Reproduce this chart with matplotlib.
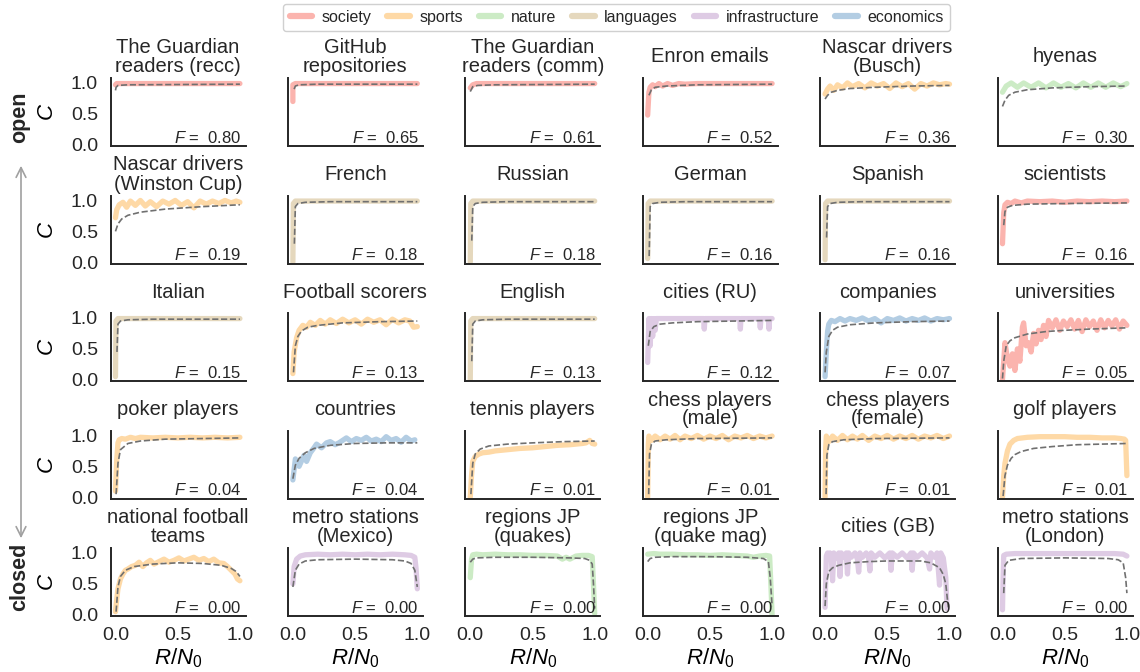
import matplotlib
matplotlib.use('Agg')
import matplotlib.pyplot as plt
from matplotlib.lines import Line2D
from matplotlib.patches import FancyArrowPatch

plt.rcParams['font.family'] = ['Liberation Sans', 'DejaVu Sans']
plt.rcParams['mathtext.fontset'] = 'custom'
plt.rcParams['mathtext.rm'] = 'Liberation Sans'
plt.rcParams['mathtext.it'] = 'Liberation Sans:italic'
plt.rcParams['text.color'] = '#262626'
plt.rcParams['xtick.color'] = '#262626'
plt.rcParams['ytick.color'] = '#262626'

# category colours (Pastel1)
group_names = ['society', 'sports', 'nature', 'languages', 'infrastructure', 'economics']
group_colors = ['#fbb4ae', '#fed9a6', '#ccebc5', '#e5d8bd', '#decbe4', '#b3cde3']

titles = [
    'The Guardian\nreaders (recc)', 'GitHub\nrepositories', 'The Guardian\nreaders (comm)',
    'Enron emails', 'Nascar drivers\n(Busch)', 'hyenas',
    'Nascar drivers\n(Winston Cup)', 'French', 'Russian', 'German', 'Spanish', 'scientists',
    'Italian', 'Football scorers', 'English', 'cities (RU)', 'companies', 'universities',
    'poker players', 'countries', 'tennis players', 'chess players\n(male)',
    'chess players\n(female)', 'golf players',
    'national football\nteams', 'metro stations\n(Mexico)', 'regions JP\n(quakes)',
    'regions JP\n(quake mag)', 'cities (GB)', 'metro stations\n(London)',
]
groups = [
    'society', 'society', 'society', 'society', 'sports', 'nature',
    'sports', 'languages', 'languages', 'languages', 'languages', 'society',
    'languages', 'sports', 'languages', 'infrastructure', 'economics', 'society',
    'sports', 'economics', 'sports', 'sports', 'sports', 'sports',
    'sports', 'infrastructure', 'nature', 'nature', 'infrastructure', 'infrastructure',
]
f_values = [0.80, 0.65, 0.61, 0.52, 0.36, 0.30,
            0.19, 0.18, 0.18, 0.16, 0.16, 0.16,
            0.15, 0.13, 0.13, 0.12, 0.07, 0.05,
            0.04, 0.04, 0.01, 0.01, 0.01, 0.01,
            0.00, 0.00, 0.00, 0.00, 0.00, 0.00]

# measured curves C(R/N0)
obs_x = [
    [0.0, 0.01, 1.0],
    [0.0, 0.0, 0.02, 1.0],
    [0.0, 0.02, 0.05, 1.0],
    [0.0, 0.01, 0.02, 0.04, 0.06, 0.09, 0.12, 0.16, 0.2, 0.25, 0.3, 0.4, 1.0],
    [0.0, 0.02, 0.04, 0.07, 0.1, 0.14, 0.18, 0.22, 0.27, 0.32, 0.37, 0.42, 0.47, 0.52,
     0.57, 0.62, 0.67, 0.72, 0.77, 0.82, 0.87, 0.92, 0.97, 1.0],
    [0.0, 0.03, 0.07, 0.12, 0.17, 0.23, 0.29, 0.35, 0.41, 0.47, 0.53, 0.59, 0.65, 0.71,
     0.77, 0.83, 0.89, 0.95, 1.0],
    [0.0, 0.01, 0.03, 0.06, 0.09, 0.12, 0.16, 0.2, 0.24, 0.28, 0.33, 0.38, 0.43, 0.48,
     0.53, 0.58, 0.63, 0.68, 0.73, 0.78, 0.83, 0.88, 0.93, 0.97, 1.0],
    [0.0, 0.004, 0.02, 1.0],
    [0.0, 0.004, 0.02, 1.0],
    [0.0, 0.004, 0.02, 1.0],
    [0.0, 0.004, 0.02, 1.0],
    [0.0, 0.01, 0.02, 0.04, 0.07, 0.1, 0.15, 0.2, 0.3, 0.4, 0.5, 0.6, 0.7, 0.8, 0.9, 1.0],
    [0.0, 0.004, 0.02, 1.0],
    [0.0, 0.01, 0.03, 0.05, 0.08, 0.11, 0.14, 0.18, 0.22, 0.26, 0.3, 0.35, 0.4, 0.45,
     0.5, 0.55, 0.6, 0.65, 0.7, 0.75, 0.8, 0.85, 0.9, 0.94, 0.97, 1.0],
    [0.0, 0.004, 0.02, 1.0],
    [0.0, 0.01, 0.02, 0.03, 0.04, 0.05, 0.06, 0.07, 0.1, 0.2, 0.3, 0.45, 0.455, 0.46,
     0.7, 0.74, 0.745, 0.75, 0.9, 0.905, 0.91, 0.97, 0.975, 0.98, 1.0],
    [0.0, 0.01, 0.02, 0.03, 0.05, 0.08, 0.12, 0.16, 0.2, 0.25, 0.3, 0.35, 0.4, 0.45,
     0.5, 0.55, 0.6, 0.65, 0.7, 0.75, 0.8, 0.85, 0.9, 0.95, 1.0],
    [0.0, 0.02, 0.04, 0.06, 0.08, 0.1, 0.12, 0.14, 0.16, 0.17, 0.19, 0.21, 0.23, 0.25,
     0.27, 0.29, 0.31, 0.33, 0.35, 0.37, 0.4, 0.43, 0.46, 0.49, 0.52, 0.55, 0.58, 0.61,
     0.64, 0.67, 0.7, 0.73, 0.76, 0.79, 0.82, 0.85, 0.88, 0.91, 0.94, 0.97, 1.0],
    [0.0, 0.01, 0.02, 0.03, 0.05, 0.08, 0.12, 0.16, 0.2, 0.3, 0.4, 0.5, 0.6, 0.7, 0.8, 0.9, 1.0],
    [0.0, 0.02, 0.05, 0.09, 0.11, 0.14, 0.17, 0.19, 0.23, 0.27, 0.3, 0.34, 0.37, 0.4,
     0.43, 0.47, 0.51, 0.55, 0.59, 0.63, 0.67, 0.71, 0.75, 0.79, 0.83, 0.87, 0.91, 0.95, 0.98],
    [0.0, 0.01, 0.02, 0.04, 0.07, 0.1, 0.15, 0.2, 0.3, 0.4, 0.5, 0.6, 0.7, 0.8, 0.85,
     0.9, 0.93, 0.96, 0.98, 1.0],
    [0.0, 0.005, 0.01, 0.03, 0.06, 0.1, 0.14, 0.18, 0.22, 0.26, 0.3, 0.35, 0.4, 0.45,
     0.5, 0.55, 0.6, 0.65, 0.7, 0.75, 0.8, 0.85, 0.9, 0.95, 1.0],
    [0.0, 0.005, 0.01, 0.03, 0.06, 0.1, 0.14, 0.18, 0.22, 0.26, 0.3, 0.35, 0.4, 0.45,
     0.5, 0.55, 0.6, 0.65, 0.7, 0.75, 0.8, 0.85, 0.9, 0.95, 1.0],
    [0.0, 0.01, 0.02, 0.04, 0.06, 0.09, 0.12, 0.16, 0.2, 0.3, 0.4, 0.5, 0.6, 0.7, 0.8,
     0.9, 0.95, 0.98, 0.99, 1.0],
    [0.0, 0.01, 0.02, 0.04, 0.06, 0.08, 0.1, 0.13, 0.16, 0.19, 0.22, 0.25, 0.28, 0.31,
     0.35, 0.39, 0.43, 0.47, 0.51, 0.55, 0.59, 0.63, 0.67, 0.71, 0.75, 0.79, 0.83, 0.87,
     0.9, 0.93, 0.96, 0.98, 1.0],
    [0.0, 0.01, 0.03, 0.06, 0.1, 0.2, 0.3, 0.4, 0.5, 0.6, 0.7, 0.8, 0.9, 0.95, 0.98, 0.99, 1.0],
    [0.0, 0.01, 0.02, 0.05, 0.1, 0.2, 0.3, 0.4, 0.5, 0.6, 0.7, 0.74, 0.77, 0.8, 0.85,
     0.9, 0.95, 0.98, 0.99, 1.0],
    [0.0, 0.05, 0.1, 0.2, 0.3, 0.4, 0.5, 0.6, 0.7, 0.8, 0.85, 0.9, 0.95, 0.98, 0.99, 1.0],
    [0.0, 0.01, 0.02, 0.03, 0.04, 0.05, 0.06, 0.07, 0.09, 0.11, 0.12, 0.13, 0.15, 0.17,
     0.18, 0.19, 0.21, 0.24, 0.26, 0.27, 0.28, 0.3, 0.33, 0.35, 0.36, 0.37, 0.4, 0.44,
     0.48, 0.52, 0.53, 0.54, 0.58, 0.62, 0.66, 0.69, 0.7, 0.71, 0.74, 0.78, 0.82, 0.84,
     0.85, 0.88, 0.9, 0.92, 0.93, 0.95, 0.97, 0.98],
    [0.0, 0.005, 0.01, 0.03, 0.1, 0.3, 0.5, 0.7, 0.9, 0.97, 1.0],
]
obs_y = [
    [0.97, 0.99, 0.99],
    [0.70, 0.97, 0.99, 0.99],
    [0.92, 0.97, 0.99, 0.99],
    [0.48, 0.85, 0.93, 0.97, 0.94, 0.99, 0.95, 0.99, 0.96, 0.99, 0.98, 0.99, 0.99],
    [0.82, 0.90, 0.95, 0.88, 0.97, 0.92, 1.0, 0.94, 0.99, 0.92, 1.0, 0.95, 0.99, 0.91,
     1.0, 0.94, 0.99, 0.90, 0.99, 0.95, 1.0, 0.97, 0.99, 0.98],
    [0.85, 0.95, 1.0, 0.93, 1.0, 0.93, 1.0, 0.92, 1.0, 0.93, 0.99, 0.92, 1.0, 0.93,
     1.0, 0.93, 1.0, 0.94, 0.99],
    [0.72, 0.85, 0.93, 0.97, 0.89, 0.99, 0.92, 1.0, 0.91, 0.98, 0.90, 0.99, 0.94, 1.0,
     0.92, 0.98, 0.88, 0.99, 0.94, 0.99, 0.95, 1.0, 0.96, 0.99, 0.97],
    [0.0, 0.95, 0.99, 0.99],
    [0.0, 0.95, 0.99, 0.99],
    [0.06, 0.95, 0.99, 0.99],
    [0.04, 0.95, 0.99, 0.99],
    [0.30, 0.80, 0.93, 0.97, 0.95, 0.99, 0.96, 0.99, 0.98, 0.99, 0.97, 0.99, 0.98, 0.99, 0.98, 0.99],
    [0.05, 0.95, 0.99, 0.99],
    [0.10, 0.45, 0.68, 0.80, 0.88, 0.85, 0.93, 0.88, 0.96, 0.90, 0.97, 0.91, 0.98, 0.92,
     0.97, 0.90, 0.98, 0.93, 0.97, 0.89, 0.98, 0.92, 0.97, 0.95, 0.85, 0.86],
    [0.0, 0.95, 0.99, 0.99],
    [0.28, 0.99, 0.55, 0.99, 0.70, 0.99, 0.80, 0.99, 0.99, 0.99, 0.99, 0.99, 0.82, 0.99,
     0.99, 0.99, 0.82, 0.99, 0.99, 0.84, 0.99, 0.99, 0.82, 0.99, 0.99],
    [0.05, 0.45, 0.78, 0.90, 0.96, 0.94, 0.99, 0.95, 0.99, 0.96, 1.0, 0.95, 0.99, 0.92,
     0.99, 0.96, 1.0, 0.95, 0.99, 0.96, 1.0, 0.95, 0.99, 0.97, 0.99],
    [0.0, 0.60, 0.35, 0.22, 0.42, 0.15, 0.50, 0.30, 0.85, 0.92, 0.55, 0.60, 0.45, 0.75,
     0.58, 0.80, 0.65, 0.88, 0.70, 0.96, 0.84, 0.97, 0.80, 0.95, 0.86, 0.97, 0.82, 0.96,
     0.78, 0.97, 0.86, 0.95, 0.80, 0.97, 0.84, 0.96, 0.87, 0.97, 0.82, 0.95, 0.88],
    [0.10, 0.60, 0.88, 0.93, 0.95, 0.94, 0.97, 0.95, 0.97, 0.96, 0.97, 0.96, 0.97, 0.96, 0.97, 0.96, 0.97],
    [0.28, 0.62, 0.50, 0.68, 0.58, 0.72, 0.80, 0.86, 0.80, 0.88, 0.90, 0.85, 0.88, 0.92,
     0.96, 0.90, 0.95, 0.92, 0.97, 0.91, 0.94, 0.90, 0.98, 0.92, 0.95, 0.89, 0.97, 0.91, 0.93],
    [0.0, 0.35, 0.58, 0.66, 0.70, 0.72, 0.73, 0.75, 0.77, 0.79, 0.80, 0.82, 0.84, 0.85,
     0.86, 0.87, 0.88, 0.92, 0.87, 0.86],
    [0.0, 0.85, 0.99, 0.92, 0.99, 0.93, 0.99, 0.94, 1.0, 0.93, 0.99, 0.95, 1.0, 0.94,
     0.99, 0.95, 1.0, 0.93, 0.99, 0.96, 1.0, 0.95, 0.99, 0.96, 0.99],
    [0.0, 0.80, 0.99, 0.90, 0.99, 0.92, 1.0, 0.93, 0.99, 0.94, 1.0, 0.92, 0.99, 0.95,
     1.0, 0.94, 0.99, 0.95, 1.0, 0.94, 0.99, 0.96, 1.0, 0.95, 0.99],
    [0.0, 0.35, 0.55, 0.75, 0.86, 0.92, 0.95, 0.96, 0.97, 0.98, 0.98, 0.98, 0.97, 0.97,
     0.96, 0.96, 0.95, 0.94, 0.92, 0.35],
    [0.05, 0.25, 0.42, 0.58, 0.66, 0.72, 0.74, 0.78, 0.80, 0.85, 0.78, 0.84, 0.88, 0.82,
     0.86, 0.90, 0.85, 0.88, 0.92, 0.87, 0.90, 0.93, 0.88, 0.91, 0.86, 0.90, 0.84, 0.83,
     0.78, 0.72, 0.66, 0.58, 0.55],
    [0.50, 0.78, 0.90, 0.95, 0.97, 0.98, 0.97, 0.98, 0.97, 0.98, 0.97, 0.98, 0.97, 0.96,
     0.93, 0.75, 0.42],
    [0.60, 0.90, 0.97, 0.98, 0.97, 0.98, 0.97, 0.97, 0.96, 0.96, 0.95, 0.90, 0.93, 0.90,
     0.95, 0.96, 0.96, 0.94, 0.50, 0.02],
    [0.98, 0.99, 0.98, 0.98, 0.97, 0.97, 0.96, 0.97, 0.96, 0.95, 0.93, 0.95, 0.96, 0.95, 0.50, 0.0],
    [0.12, 0.95, 1.0, 0.90, 1.0, 0.92, 0.55, 1.0, 0.92, 1.0, 0.62, 1.0, 0.93, 1.0,
     0.66, 1.0, 0.93, 1.0, 0.90, 0.69, 1.0, 0.93, 1.0, 0.92, 0.71, 1.0, 0.93, 1.0,
     0.92, 1.0, 0.72, 1.0, 0.93, 1.0, 0.92, 1.0, 0.72, 1.0, 0.93, 1.0, 0.92, 0.74,
     1.0, 0.93, 1.0, 0.48, 1.0, 0.92, 0.60, 0.10],
    [0.08, 0.60, 0.96, 0.98, 0.99, 0.99, 0.99, 0.99, 0.99, 0.98, 0.95],
]

# fitted curves (dashed)
fit_x = [
    [0.0, 0.005, 0.02, 0.1, 1.0],
    [0.01, 0.02, 0.05, 0.2, 1.0],
    [0.0, 0.02, 0.06, 0.2, 1.0],
    [0.01, 0.03, 0.06, 0.15, 0.4, 1.0],
    [0.0, 0.02, 0.05, 0.1, 0.2, 0.4, 0.7, 1.0],
    [0.0, 0.02, 0.05, 0.1, 0.2, 0.4, 0.7, 1.0],
    [0.0, 0.02, 0.05, 0.1, 0.2, 0.4, 0.7, 1.0],
    [0.012, 0.02, 0.04, 0.1, 0.3, 1.0],
    [0.012, 0.02, 0.04, 0.1, 0.3, 1.0],
    [0.012, 0.02, 0.04, 0.1, 0.3, 1.0],
    [0.012, 0.02, 0.04, 0.1, 0.3, 1.0],
    [0.01, 0.02, 0.04, 0.08, 0.2, 0.5, 1.0],
    [0.012, 0.02, 0.04, 0.1, 0.3, 1.0],
    [0.005, 0.02, 0.04, 0.07, 0.12, 0.2, 0.4, 0.7, 1.0],
    [0.012, 0.02, 0.04, 0.1, 0.3, 1.0],
    [0.005, 0.02, 0.05, 0.1, 0.2, 0.4, 0.7, 1.0],
    [0.0, 0.01, 0.03, 0.06, 0.1, 0.2, 0.4, 0.7, 1.0],
    [0.0, 0.01, 0.03, 0.06, 0.1, 0.2, 0.35, 0.5, 0.7, 1.0],
    [0.005, 0.02, 0.04, 0.1, 0.2, 0.4, 0.7, 1.0],
    [0.0, 0.02, 0.05, 0.1, 0.17, 0.3, 0.5, 0.75, 1.0],
    [0.005, 0.02, 0.04, 0.08, 0.15, 0.3, 0.5, 0.75, 1.0],
    [0.008, 0.015, 0.03, 0.06, 0.15, 0.4, 1.0],
    [0.008, 0.015, 0.03, 0.06, 0.15, 0.4, 1.0],
    [0.005, 0.02, 0.04, 0.07, 0.1, 0.15, 0.25, 0.4, 0.6, 0.8, 1.0],
    [0.005, 0.02, 0.04, 0.08, 0.15, 0.3, 0.5, 0.7, 0.85, 0.93, 0.97, 1.0],
    [0.0, 0.02, 0.05, 0.1, 0.2, 0.5, 0.8, 0.9, 0.95, 0.98, 1.0],
    [0.0, 0.02, 0.05, 0.2, 0.5, 0.8, 0.92, 0.96, 0.98, 0.99, 1.0],
    [0.0, 0.02, 0.06, 0.2, 0.5, 0.8, 0.93, 0.97, 0.985, 1.0],
    [0.0, 0.01, 0.03, 0.06, 0.11, 0.2, 0.35, 0.5, 0.77, 0.85, 0.92, 0.95, 0.97, 0.99],
    [0.01, 0.02, 0.05, 0.15, 0.5, 0.85, 0.93, 0.97, 0.99, 1.0],
]
fit_y = [
    [0.88, 0.93, 0.96, 0.97, 0.98],
    [0.90, 0.95, 0.97, 0.98, 0.98],
    [0.86, 0.94, 0.96, 0.97, 0.98],
    [0.80, 0.89, 0.93, 0.95, 0.97, 0.98],
    [0.74, 0.80, 0.85, 0.88, 0.91, 0.93, 0.95, 0.96],
    [0.62, 0.72, 0.80, 0.85, 0.89, 0.92, 0.94, 0.95],
    [0.50, 0.62, 0.70, 0.76, 0.81, 0.86, 0.90, 0.93],
    [0.30, 0.90, 0.95, 0.97, 0.98, 0.98],
    [0.35, 0.90, 0.95, 0.97, 0.98, 0.98],
    [0.10, 0.90, 0.95, 0.97, 0.98, 0.98],
    [0.40, 0.90, 0.95, 0.97, 0.98, 0.98],
    [0.60, 0.82, 0.89, 0.92, 0.94, 0.95, 0.96],
    [0.45, 0.90, 0.95, 0.97, 0.98, 0.98],
    [0.12, 0.55, 0.70, 0.79, 0.85, 0.88, 0.92, 0.94, 0.95],
    [0.30, 0.90, 0.95, 0.97, 0.98, 0.98],
    [0.55, 0.78, 0.86, 0.90, 0.92, 0.94, 0.95, 0.96],
    [0.12, 0.45, 0.70, 0.80, 0.85, 0.89, 0.92, 0.94, 0.95],
    [0.02, 0.30, 0.55, 0.63, 0.68, 0.74, 0.78, 0.80, 0.82, 0.84],
    [0.05, 0.55, 0.77, 0.87, 0.91, 0.94, 0.95, 0.96],
    [0.30, 0.52, 0.63, 0.72, 0.79, 0.84, 0.87, 0.88, 0.88],
    [0.05, 0.55, 0.70, 0.78, 0.83, 0.86, 0.88, 0.90, 0.91],
    [0.05, 0.70, 0.86, 0.91, 0.93, 0.95, 0.96],
    [0.05, 0.68, 0.85, 0.90, 0.93, 0.95, 0.96],
    [0.02, 0.35, 0.52, 0.63, 0.69, 0.74, 0.79, 0.82, 0.85, 0.86, 0.87],
    [0.05, 0.45, 0.62, 0.72, 0.78, 0.82, 0.84, 0.83, 0.80, 0.75, 0.70, 0.62],
    [0.45, 0.72, 0.82, 0.87, 0.89, 0.90, 0.89, 0.87, 0.83, 0.72, 0.45],
    [0.85, 0.90, 0.92, 0.93, 0.93, 0.92, 0.91, 0.88, 0.82, 0.50, 0.10],
    [0.86, 0.91, 0.93, 0.94, 0.94, 0.93, 0.91, 0.86, 0.60, 0.14],
    [0.14, 0.50, 0.70, 0.76, 0.80, 0.84, 0.86, 0.87, 0.87, 0.84, 0.76, 0.65, 0.50, 0.12],
    [0.35, 0.80, 0.88, 0.91, 0.92, 0.91, 0.89, 0.84, 0.60, 0.35],
]

color_of = dict(zip(group_names, group_colors))

W, H = 1140, 672
fig = plt.figure(figsize=(W / 100, H / 100), dpi=100)

n_rows, n_cols = 5, 6
for i in range(n_rows * n_cols):
    r, c = divmod(i, n_cols)
    left = (110.5 + 177.4 * c) / W
    bottom = 1 - (146 + 117.5 * r) / H
    ax = fig.add_axes([left, bottom, 135 / W, 68 / H])

    ax.plot(obs_x[i], obs_y[i], color=color_of[groups[i]], lw=3.8,
            solid_capstyle='round', solid_joinstyle='round', zorder=2)
    ax.plot(fit_x[i], fit_y[i], color='#707070', lw=1.2, ls='--', zorder=3)

    ax.set_xlim(-0.04, 1.045)
    ax.set_ylim(-0.02, 1.08)
    ax.set_xticks([0, 0.5, 1.0])
    ax.set_yticks([0, 0.5, 1.0])
    ax.tick_params(length=0, labelsize=14)
    ax.tick_params(axis='y', pad=9)
    ax.tick_params(axis='x', pad=8)
    for side in ['top', 'right']:
        ax.spines[side].set_visible(False)
    for side in ['left', 'bottom']:
        ax.spines[side].set_color('#262626')
        ax.spines[side].set_linewidth(1.4)

    if c == 0:
        ax.set_yticklabels(['0.0', '0.5', '1.0'])
        ax.set_ylabel('$C$', fontsize=16, labelpad=9)
    else:
        ax.set_yticklabels([])
    if r == n_rows - 1:
        ax.set_xticklabels(['0.0', '0.5', '1.0'])
        ax.set_xlabel('$R/N_0$', fontsize=16, labelpad=2)
    else:
        ax.set_xticklabels([])

    ax.text(0.5, 1 + 21 / 68, titles[i], transform=ax.transAxes, ha='center',
            va='center', fontsize=14.5, linespacing=1.0)
    ax.text(0.97, 0.05, f'$F$ =  {f_values[i]:.2f}', transform=ax.transAxes,
            ha='right', va='baseline', fontsize=12)

# open / closed axis annotation
fig.text(20 / W, 1 - 117 / H, 'open', rotation=90, ha='center', va='center',
         fontsize=15.5, fontweight='bold')
fig.text(20 / W, 1 - 577 / H, 'closed', rotation=90, ha='center', va='center',
         fontsize=15.5, fontweight='bold')
arrow = FancyArrowPatch((21 / W, 1 - 163 / H), (21 / W, 1 - 541 / H),
                        transform=fig.transFigure,
                        arrowstyle='<->,head_length=0.5,head_width=0.25',
                        mutation_scale=14, color='#a0a0a0', lw=1.2)
fig.add_artist(arrow)

handles = [Line2D([0], [0], color=col, lw=4.5, solid_capstyle='round') for col in group_colors]
fig.legend(handles, group_names, loc='upper center', bbox_to_anchor=(0.541, 0.997),
           ncol=6, fontsize=11.5, frameon=True, handlelength=1.4, columnspacing=1.0,
           handletextpad=0.6, borderpad=0.4, borderaxespad=0.1,
           edgecolor='#d0d0d0', framealpha=1)

fig.savefig('out.png', dpi=100)
